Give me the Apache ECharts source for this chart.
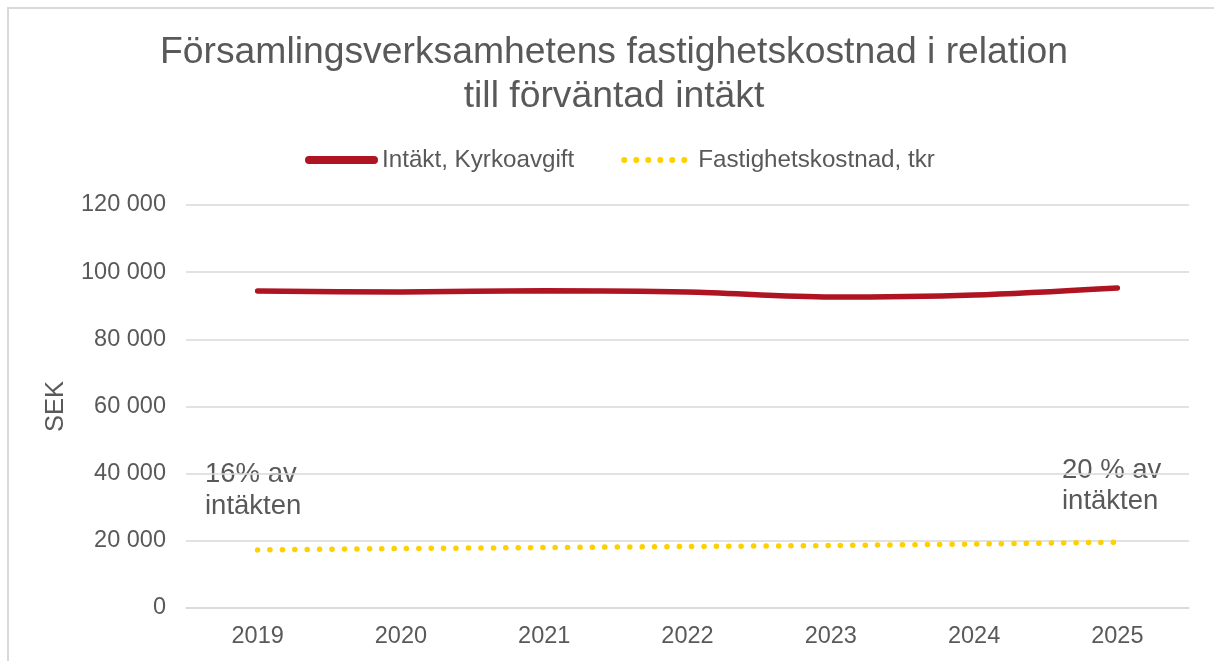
<!DOCTYPE html>
<html>
<head>
<meta charset="utf-8">
<script src="https://cdn.jsdelivr.net/npm/echarts@6/dist/echarts.min.js"></script>
<style>
    html, body { margin: 0; padding: 0; background: #fff; }
    #chart { width: 1214px; height: 661px; }
</style>
</head>
<body>
<div id="chart"></div>
<script>
    const years = ['2019', '2020', '2021', '2022', '2023', '2024', '2025']
    const intakt = [94400, 94100, 94500, 94100, 92600, 93200, 95300]
    const fastighet = [17300, 17700, 18000, 18300, 18600, 19050, 19600]
    const titleText = 'Församlingsverksamhetens fastighetskostnad i relation\ntill förväntad intäkt'
    const noteLeft = '16% av\nintäkten'
    const noteRight = '20 % av\nintäkten'

    const font = 'Arial, "Liberation Sans", sans-serif'
    const grey = '#595959'

    // six round dots for the dotted legend icon, box padded out to 73 wide
    let dots = 'M0,1 L0,1 M73,7 L73,7 '
    for (let i = 0; i < 6; i++) {
        const cx = 3 + i * 12
        dots += `M${cx - 3},4 a3,3 0 1,0 6,0 a3,3 0 1,0 -6,0 Z `
    }

    const chart = echarts.init(document.getElementById('chart'))
    const option = {
        animation: false,
        title: {
            text: titleText,
            left: 609,
            textAlign: 'center',
            top: 26,
            textStyle: {
                fontFamily: font,
                fontSize: 37.3,
                fontWeight: 'normal',
                color: grey,
                lineHeight: 44
            }
        },
        legend: {
            top: 143,
            left: 300,
            itemGap: 47,
            itemWidth: 73,
            itemHeight: 8,
            textStyle: { fontFamily: font, fontSize: 24.2, color: grey, padding: [0, 0, 0, -1] },
            data: [
                { name: 'Intäkt, Kyrkoavgift', icon: 'path://M4,0 L69,0 A4,4 0 0,1 69,8 L4,8 A4,4 0 0,1 4,0 Z' },
                { name: 'Fastighetskostnad, tkr', icon: 'path://' + dots, itemStyle: { color: '#ffd000' } }
            ]
        },
        grid: {
            left: 186,
            right: 25,
            top: 205,
            bottom: 53
        },
        xAxis: {
            type: 'category',
            data: years,
            axisTick: { show: false },
            axisLine: { lineStyle: { color: '#d9d9d9', width: 1.5 } },
            axisLabel: { fontFamily: font, fontSize: 23.5, color: grey, margin: 17 }
        },
        yAxis: {
            type: 'value',
            min: 0,
            max: 120000,
            interval: 20000,
            name: 'SEK',
            nameLocation: 'middle',
            nameGap: 117,
            nameTextStyle: { fontFamily: font, fontSize: 25.5, color: grey },
            axisLine: { show: false },
            axisTick: { show: false },
            splitLine: { lineStyle: { color: '#d9d9d9', width: 1.5 } },
            axisLabel: {
                fontFamily: font,
                fontSize: 23.5,
                color: grey,
                margin: 20,
                formatter: v => String(v).replace(/\B(?=(\d{3})+(?!\d))/g, ' ')
            }
        },
        series: [
            {
                name: 'Intäkt, Kyrkoavgift',
                type: 'line',
                data: intakt,
                smooth: 0.3,
                showSymbol: false,
                color: '#ae1421',
                lineStyle: { width: 5.5, color: '#ae1421', cap: 'round' }
            },
            {
                name: 'Fastighetskostnad, tkr',
                type: 'line',
                data: fastighet,
                smooth: 0.3,
                showSymbol: false,
                color: '#ffd000',
                lineStyle: { width: 5.5, color: '#ffd000', type: [0.1, 12.3], cap: 'round' }
            }
        ],
        graphic: [
            {
                type: 'rect',
                shape: { x: 8, y: 8, width: 1230, height: 670 },
                style: { fill: 'none', stroke: '#d9d9d9', lineWidth: 2 },
                silent: true
            },
            {
                type: 'text',
                left: 205,
                top: 458,
                style: { text: noteLeft, fontFamily: font, fontSize: 27.5, fill: grey, lineHeight: 32 }
            },
            {
                type: 'text',
                left: 1062,
                top: 455,
                style: { text: noteRight, fontFamily: font, fontSize: 27.5, fill: grey, lineHeight: 31 }
            }
        ]
    }
    chart.setOption(option)
</script>
</body>
</html>
